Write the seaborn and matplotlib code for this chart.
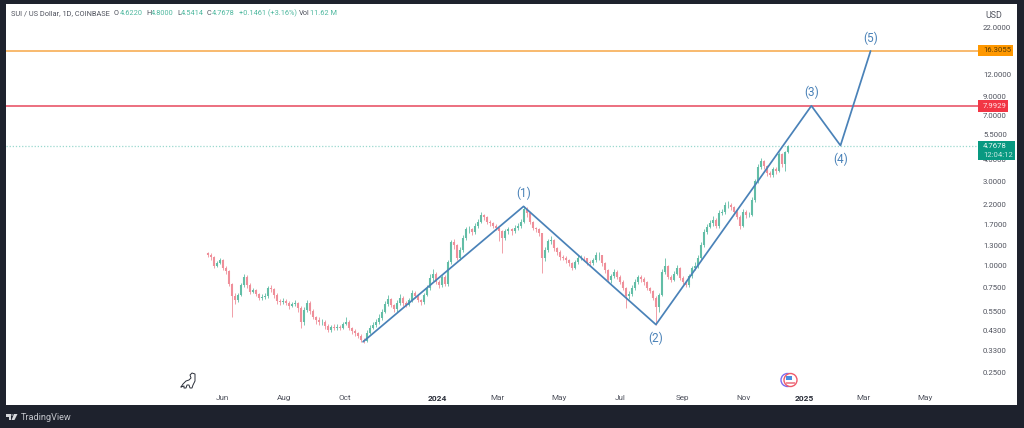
import numpy as np
import pandas as pd
import seaborn as sns
import matplotlib.pyplot as plt
import matplotlib.dates as mdates
from matplotlib.lines import Line2D
from matplotlib.patches import Circle, Ellipse, Polygon, Rectangle

# candles for every third day
closes = [1.15, 1.12, 1.00, 1.03, 1.07, .974, .937, .791, .676, .642, .685, .781, .866, .781, .713, .731,
          .694, .659, .668, .676, .751, .741, .685, .634, .625, .634, .617, .594, .609, .617, .578, .482,
          .563, .617, .556, .514, .495, .482, .482, .458, .434, .452, .446, .452, .446, .470, .482, .446,
          .429, .418, .402, .381, .376, .418, .446, .464, .482, .508, .549, .609, .650, .601, .571, .617,
          .659, .617, .601, .642, .703, .676, .642, .625, .685, .751, .855, .901, .812, .781, .866, .791,
          1.05, 1.35, 1.30, 1.11, 1.23, 1.44, 1.60, 1.60, 1.54, 1.68, 1.77, 1.92, 1.87, 1.77, 1.73, 1.68,
          1.64, 1.56, 1.44, 1.56, 1.60, 1.56, 1.64, 1.68, 1.77, 2.08, 1.97, 1.77, 1.64, 1.60, 1.52, 1.11,
          1.23, 1.37, 1.40, 1.26, 1.20, 1.12, 1.11, 1.08, 1.03, .974, 1.05, 1.11, 1.11, 1.10, 1.05, 1.04,
          1.08, 1.14, 1.14, 1.03, .949, .833, .878, .925, .866, .812, .751, .676, .694, .751, .812, .866,
          .844, .812, .751, .722, .659, .586, .685, .925, 1.00, .866, .833, .901, .974, .855, .812, .781,
          .878, .974, 1.00, 1.11, 1.31, 1.54, 1.66, 1.73, 1.82, 1.68, 1.97, 2.02, 2.21, 2.21, 2.13, 2.02,
          1.89, 1.68, 2.02, 1.92, 1.94, 2.36, 2.99, 3.59, 3.88, 3.64, 3.32, 3.23, 3.50, 3.41, 4.25, 3.73,
          4.40, 4.7678]
highs = [1.20, 1.17, 1.13, 1.06, 1.10, 1.09, 1.00, .95, .80, .70, .70, .80, .90, .88, .80, .75,
         .74, .70, .69, .70, .77, .78, .75, .70, .65, .66, .65, .63, .62, .64, .62, .59,
         .58, .64, .63, .57, .52, .51, .50, .49, .47, .46, .47, .47, .46, .48, .51, .49,
         .45, .44, .42, .41, .39, .43, .46, .48, .50, .53, .57, .63, .68, .66, .61, .64,
         .69, .67, .63, .66, .73, .72, .69, .65, .70, .78, .90, .96, .92, .83, .89, .88,
         1.08, 1.40, 1.42, 1.32, 1.27, 1.48, 1.66, 1.68, 1.63, 1.73, 1.83, 2.00, 1.95, 1.90, 1.80, 1.76,
         1.71, 1.66, 1.58, 1.60, 1.66, 1.63, 1.70, 1.74, 1.84, 2.16, 2.14, 1.99, 1.79, 1.66, 1.62, 1.53,
         1.28, 1.41, 1.46, 1.42, 1.28, 1.22, 1.14, 1.13, 1.09, 1.05, 1.08, 1.15, 1.14, 1.13, 1.11, 1.07,
         1.11, 1.19, 1.19, 1.15, 1.05, .96, .90, .96, .94, .88, .83, .76, .72, .78, .84, .89,
         .88, .86, .82, .76, .73, .67, .70, .96, 1.11, 1.01, .88, .93, 1.01, .98, .87, .82,
         .90, 1.00, 1.05, 1.15, 1.35, 1.60, 1.72, 1.80, 1.90, 1.85, 2.05, 2.10, 2.30, 2.32, 2.25, 2.16,
         2.05, 1.92, 2.08, 2.05, 2.00, 2.45, 3.10, 3.75, 4.05, 3.95, 3.70, 3.40, 3.60, 3.60, 4.40, 4.30,
         4.45, 4.80]
lows = [1.12, 1.08, .97, .98, 1.02, .95, .90, .77, .514, .61, .62, .67, .76, .75, .69, .70,
        .67, .64, .64, .65, .66, .71, .66, .61, .60, .61, .60, .57, .58, .59, .55, .446,
        .46, .55, .53, .50, .47, .46, .46, .44, .42, .42, .43, .43, .43, .44, .46, .43,
        .41, .40, .39, .37, .365, .37, .41, .44, .45, .47, .49, .54, .59, .58, .55, .55,
        .60, .59, .58, .59, .62, .66, .62, .60, .61, .67, .73, .82, .79, .75, .76, .77,
        .77, 1.02, 1.24, 1.07, 1.08, 1.20, 1.40, 1.52, 1.48, 1.50, 1.64, 1.73, 1.80, 1.72, 1.68, 1.62,
        1.58, 1.37, 1.18, 1.40, 1.50, 1.48, 1.52, 1.58, 1.63, 1.74, 1.88, 1.72, 1.58, 1.55, 1.46, .913,
        1.06, 1.20, 1.32, 1.21, 1.14, 1.08, 1.07, 1.04, 1.00, .94, .96, 1.02, 1.07, 1.06, 1.01, 1.00,
        1.01, 1.05, 1.08, .99, .91, .81, .80, .85, .84, .79, .73, .578, .65, .67, .73, .79,
        .81, .78, .73, .70, .64, .464, .55, .67, .90, .84, .81, .82, .88, .83, .79, .76,
        .76, .85, .95, .97, 1.07, 1.27, 1.50, 1.62, 1.68, 1.62, 1.64, 1.92, 1.95, 2.12, 2.05, 1.96,
        1.84, 1.61, 1.65, 1.86, 1.88, 1.90, 2.30, 2.92, 3.50, 3.52, 3.22, 3.15, 3.18, 3.30, 3.38, 3.60,
        3.41, 4.30]
first_open = 1.18
first_day = '2023-05-17'

wave_days = ['2023-10-19', '2024-03-27', '2024-08-06', '2025-01-08', '2025-02-06', '2025-03-08']
wave_prices = [.371, 2.16, .464, 7.9929, 4.7678, 16.3055]
wave_names = ['', '(1)', '(2)', '(3)', '(4)', '(5)']

price_ticks = [22, 12, 9, 7, 5.5, 4, 3, 2.2, 1.7, 1.3, 1, .75, .55, .43, .33, .25]
month_days = ['2023-06-01', '2023-08-01', '2023-10-01', '2024-01-01', '2024-03-01', '2024-05-01',
              '2024-07-01', '2024-09-01', '2024-11-01', '2025-01-01', '2025-03-01', '2025-05-01']
month_names = ['Jun', 'Aug', 'Oct', '2024', 'Mar', 'May', 'Jul', 'Sep', 'Nov', '2025', 'Mar', 'May']

orange_level = 16.3055
red_level = 7.9929
last_level = 4.7678

DARK = '#1e222d'
UP = '#62bda6'
DOWN = '#ef8f9a'
WAVE = '#4a82b8'
TEXT = '#50535e'
W, H = 1024, 428

sns.set_style('white')
plt.rcParams['font.family'] = ['Roboto', 'DejaVu Sans']

fig = plt.figure(figsize=(W / 100, H / 100), dpi=100, facecolor=DARK)
ax = fig.add_axes([6 / W, (H - 405) / H, 1011 / W, 401 / H], facecolor='white')

df = pd.DataFrame({'day': pd.date_range(first_day, periods=len(closes), freq='3D'),
                   'close': closes, 'high': highs, 'low': lows})
df['open'] = df['close'].shift(1).fillna(first_open)
df['up'] = df['close'] >= df['open']

for up, part in df.groupby('up'):
    col = UP if up else DOWN
    ax.vlines(part['day'], part['low'], part['high'], color=col, lw=0.6, zorder=2)
    ax.vlines(part['day'], part['open'], part['close'], color=col, lw=1.5, zorder=2)

ax.axhline(orange_level, xmax=0.961, color='#f7ae55', lw=1.2, zorder=3)
ax.axhline(red_level, xmax=0.961, color='#e9566a', lw=1.2, zorder=3)
ax.axhline(last_level, xmax=0.961, color='#9ad8cf', lw=0.9, ls=(0, (1, 1.5)), zorder=1)

wave = pd.DataFrame({'day': pd.to_datetime(wave_days), 'price': wave_prices})
sns.lineplot(data=wave, x='day', y='price', color=WAVE, lw=1.25, ax=ax, zorder=4, sort=False, estimator=None)
for i, name in enumerate(wave_names):
    if name:
        below = name in ('(2)', '(4)')
        ax.annotate(name, (wave['day'][i], wave['price'][i]), xytext=(0, -14 if below else 13),
                    textcoords='offset pixels', ha='center', va='center', color=WAVE, fontsize=8.5)

ax.set_yscale('log')
ax.set_xlim(pd.Timestamp('2022-10-28'), pd.Timestamp('2025-08-01'))
ax.set_ylim(.163, 30.05)
ax.set_xlabel('')
ax.set_ylabel('')
ax.yaxis.tick_right()
ax.minorticks_off()
ax.set_yticks(price_ticks, ['%.4f' % p for p in price_ticks])
ax.set_xticks(mdates.date2num(pd.to_datetime(month_days)), month_names)
ax.tick_params(axis='y', length=0, pad=-24.5, labelsize=5.6, labelcolor=TEXT, direction='in')
ax.tick_params(axis='x', length=0, pad=-7.5, labelsize=5.9, labelcolor=TEXT, direction='in')
for lab in ax.get_xticklabels():
    if lab.get_text().isdigit():
        lab.set_fontweight('bold')
        lab.set_fontsize(6)
        lab.set_color('#2a2e39')
for s in ax.spines.values():
    s.set_visible(False)


def px_text(x, y, s, **kw):
    return fig.text(x / W, 1 - y / H, s, va='center', **kw)


def px_box(x0, y0, x1, y1, col):
    fig.add_artist(Rectangle((x0 / W, 1 - y1 / H), (x1 - x0) / W, (y1 - y0) / H, fc=col, ec='none', zorder=2))


# price tags on the scale
px_box(978, 45, 1013, 56, '#ff9800')
px_text(983, 50.5, '16.3055', fontsize=5.6, color='#5a3a00')
px_box(978, 100, 1008, 112, '#f23645')
px_text(983, 106, '7.9929', fontsize=5.6, color='#ffe5e8')
px_box(978, 141, 1015, 160, '#089981')
px_text(983, 146, '4.7678', fontsize=5.6, color='#e6f5f2')
px_text(983, 155, '12:04:12', fontsize=5.6, color='#c4e8e1')
px_text(985, 15, 'USD', fontsize=6.4, color=TEXT)

# legend line, each piece has its own colour
GREEN = '#4fb89f'
legend_bits = [(11, 'SUI / US Dollar, 1D, COINBASE', TEXT), (114, 'O', TEXT), (119.5, '4.6220', GREEN),
               (146, 'H', TEXT), (151, '4.8000', GREEN), (177, 'L', TEXT), (180.5, '4.5414', GREEN),
               (207, 'C', TEXT), (212, '4.7678', GREEN), (239, '+0.1461 (+3.16%)', GREEN),
               (299, 'Vol', TEXT), (310, '11.62 M', GREEN)]
for x, s, c in legend_bits:
    px_text(x, 13.5, s, fontsize=5.3, color=c)

# TradingView mark at the bottom
px_text(21, 417, 'TradingView', fontsize=6.6, color='#c4c6cc')
to_fig = lambda pts: [(x / W, 1 - y / H) for x, y in pts]
fig.add_artist(Polygon(to_fig([(6, 414), (11, 414), (11, 420), (8.5, 420), (8.5, 416.5), (6, 416.5)]), fc='#d6d8dc', ec='none'))
fig.add_artist(Polygon(to_fig([(14, 414), (17.5, 414), (14.5, 420), (11.5, 420)]), fc='#d6d8dc', ec='none'))
fig.add_artist(Circle((12.3 / W, 1 - 415 / H), 1.2 / W, fc='#d6d8dc', ec='none'))

# dino icon
dino = [(181, 387), (183, 384), (186, 381), (189, 380), (191, 378), (190, 375), (192, 373), (195, 374),
        (195, 381), (193, 385), (192, 388), (190, 388), (189, 385), (187, 385), (186, 388), (184, 388),
        (184, 386), (181, 387)]
xs, ys = zip(*to_fig(dino))
fig.add_artist(Line2D(xs, ys, color='#2a2e39', lw=0.7))

# flag / events icon
for cx, col in [(787.5, '#7a6cf0'), (790.5, '#ef5a6a')]:
    fig.add_artist(Ellipse((cx / W, 1 - 380 / H), 13 / W, 13 / H, fc='white', ec=col, lw=1))
fig.add_artist(Rectangle((786 / W, 1 - 380 / H), 6 / W, 4 / H, fc='#4a8fe0', ec='none'))
fig.add_artist(Rectangle((786 / W, 1 - 384 / H), 9 / W, 2 / H, fc='#ef8f9a', ec='none'))

fig.savefig('out.png', dpi=100, facecolor=DARK)
